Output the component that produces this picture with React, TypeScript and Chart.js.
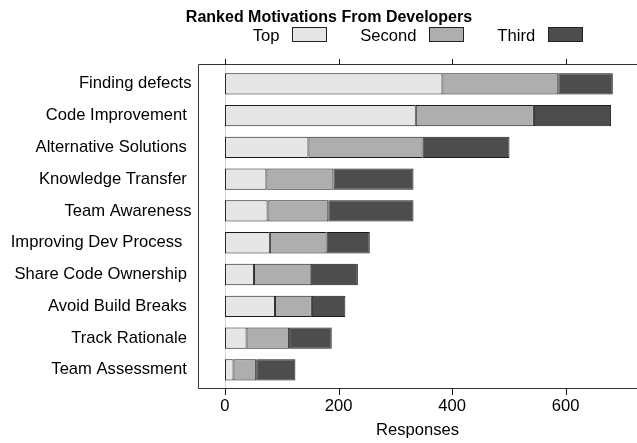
import React, { useEffect, useRef } from 'react';
import { Chart, registerables } from 'chart.js';

Chart.register(...registerables);

const categories = [
  'Finding defects',
  'Code Improvement ',
  'Alternative Solutions ',
  'Knowledge Transfer ',
  'Team Awareness',
  'Improving Dev Process  ',
  'Share Code Ownership ',
  'Avoid Build Breaks ',
  'Track Rationale ',
  'Team Assessment ',
];
const topValues = [383, 336, 147, 73, 75, 79, 51, 88, 38, 15];
const secondValues = [204, 208, 201, 118, 107, 100, 100, 65, 75, 40];
const thirdValues = [96, 136, 153, 141, 150, 76, 83, 59, 75, 69];
const seriesNames = ['Top', 'Second', 'Third'];
const seriesColors = ['#e6e6e6', '#aeaeae', '#4d4d4d'];
const xTicks = [0, 200, 400, 600];
const chartTitle = 'Ranked Motivations From Developers';
const xTitle = 'Responses';

const FONT = '"Liberation Sans", Arial, Helvetica, sans-serif';
const FS = 16.6;

const decor = {
  id: 'decor',
  beforeDatasetsDraw(chart: any) {
    const { ctx, chartArea } = chart;
    const xs = chart.scales.x;
    const top = Math.round(chartArea.top) - 3.5;
    const bottom = Math.round(chartArea.bottom) + 2.5;
    const x0 = Math.round(xs.getPixelForValue(0)) + 0.5;
    ctx.save();
    ctx.strokeStyle = '#d4d4d4';
    ctx.lineWidth = 1;
    ctx.beginPath();
    ctx.moveTo(x0, top);
    ctx.lineTo(x0, bottom);
    ctx.stroke();
    ctx.restore();
  },
  afterDraw(chart: any) {
    const { ctx, chartArea, width } = chart;
    const xs = chart.scales.x;
    const top = Math.round(chartArea.top) - 3.5;
    const bottom = Math.round(chartArea.bottom) + 2.5;
    const left = Math.round(chartArea.left) + 0.5;
    ctx.save();
    ctx.strokeStyle = '#333';
    ctx.lineWidth = 1;
    ctx.beginPath();
    ctx.moveTo(width, top);
    ctx.lineTo(left, top);
    ctx.lineTo(left, bottom);
    ctx.lineTo(width, bottom);
    ctx.stroke();
    ctx.strokeStyle = '#111';
    for (const v of xTicks) {
      const px = Math.round(xs.getPixelForValue(v)) + 0.5;
      ctx.beginPath();
      ctx.moveTo(px, bottom);
      ctx.lineTo(px, bottom + 6.5);
      ctx.moveTo(px, top);
      ctx.lineTo(px, top - 5.5);
      ctx.stroke();
    }
    // title
    ctx.fillStyle = '#000';
    ctx.font = `bold 16px ${FONT}`;
    ctx.textAlign = 'center';
    ctx.textBaseline = 'alphabetic';
    ctx.fillText(chartTitle, 329, 21.7);
    // legend
    ctx.font = `${FS}px ${FONT}`;
    ctx.textAlign = 'left';
    let x = 252.7;
    const base = 41.4;
    chart.data.datasets.forEach((ds: any) => {
      ctx.fillStyle = '#000';
      ctx.fillText(ds.label, x, base);
      x = x + ctx.measureText(ds.label).width + 12.8;
      ctx.fillStyle = ds.backgroundColor;
      ctx.fillRect(Math.round(x), 27.5, 35, 14);
      ctx.strokeStyle = '#222';
      ctx.strokeRect(Math.round(x) + 0.5, 27.5, 34, 14);
      x += 35 + 33;
    });
    ctx.restore();
  },
};

export default function App() {
  const ref = useRef<HTMLCanvasElement | null>(null);
  useEffect(() => {
    if (!ref.current) return;
    const valuesList = [topValues, secondValues, thirdValues];
    const chart = new Chart(ref.current, {
      type: 'bar',
      data: {
        labels: categories,
        datasets: valuesList.map((vals, i) => ({
          label: seriesNames[i],
          data: vals,
          backgroundColor: seriesColors[i],
          borderColor: '#1a1a1a',
          borderWidth: 1,
          borderSkipped: false,
          barPercentage: 0.67,
          categoryPercentage: 1,
        })),
      },
      options: {
        indexAxis: 'y',
        animation: false,
        responsive: false,
        devicePixelRatio: 1,
        layout: { padding: { top: 68, left: 0, right: 0, bottom: 0 } },
        plugins: {
          legend: { display: false },
          title: { display: false },
          tooltip: { enabled: false },
        },
        scales: {
          x: {
            type: 'linear',
            stacked: true,
            min: -47.5,
            max: 725.6,
            afterBuildTicks: (scale: any) => {
              scale.ticks = xTicks.map((v) => ({ value: v }));
            },
            afterFit: (scale: any) => {
              scale.height = 57.3;
            },
            grid: { display: false, drawTicks: false },
            border: { display: false },
            ticks: {
              color: '#000',
              font: { family: FONT, size: FS },
              padding: 10.5,
              maxRotation: 0,
              autoSkip: false,
            },
            title: {
              display: true,
              text: xTitle,
              color: '#000',
              font: { family: FONT, size: FS },
              padding: { top: 5, bottom: 2.5 },
            },
          },
          y: {
            stacked: true,
            afterFit: (scale: any) => {
              scale.width = 198;
            },
            grid: { display: false, drawTicks: false },
            border: { display: false },
            ticks: {
              color: '#000',
              font: { family: FONT, size: FS },
              padding: 6.5,
              autoSkip: false,
            },
          },
        },
      },
      plugins: [decor],
    });
    return () => chart.destroy();
  }, []);
  return (
    <div style={{ position: 'absolute', left: 0, top: 0, width: 637, height: 443, background: '#fff' }}>
      <canvas ref={ref} width={637} height={443} style={{ width: 637, height: 443, display: 'block' }} />
    </div>
  );
}
